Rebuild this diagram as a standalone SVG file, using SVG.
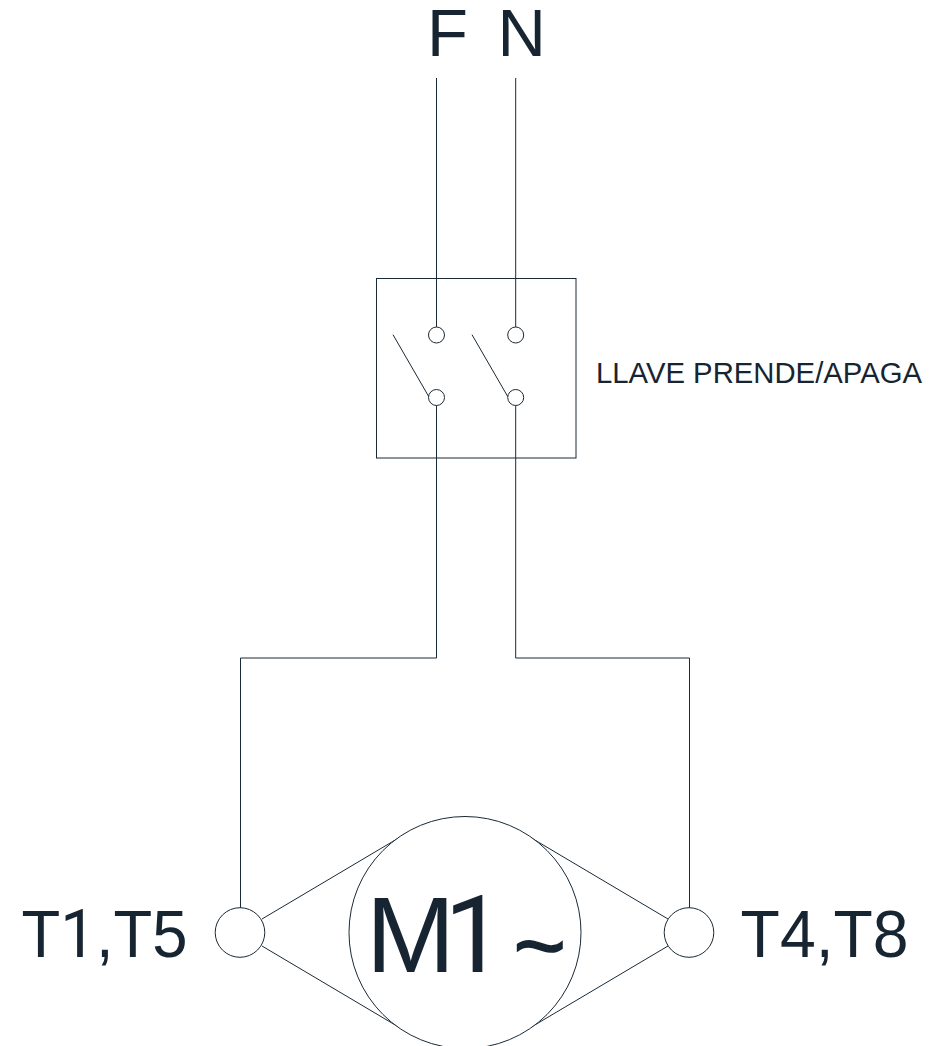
<svg xmlns="http://www.w3.org/2000/svg" width="946" height="1046" viewBox="0 0 946 1046">
<style>
.l{fill:none;stroke:#1a2a36;stroke-width:1}
.n{fill:#fff;stroke:#1a2a36;stroke-width:1}
text{font-family:"Liberation Sans",Arial,sans-serif;fill:#172431}
.d{font-family:Roboto,"Liberation Sans",sans-serif}
</style>
<rect width="946" height="1046" fill="#fff"/>
<g id="connectors">
<path class="l" d="M436.500 78V327M515.700 78V327M436.500 405V658H240.500V908M515.700 405V658H689.500V908"/>
<path class="l" d="M393 334.700L429 397M472 334.700L508 397"/>
<path class="l" d="M262 919L407 833M262 946L407 1032M668 919L523 833M668 946L523 1032"/>
</g>
<g id="switch"><rect class="l" x="376.500" y="278.500" width="199.500" height="179.500"/>
<circle class="n" cx="436.500" cy="335" r="8"/><circle class="n" cx="515.700" cy="335" r="8"/><circle class="n" cx="436.500" cy="397.500" r="8"/><circle class="n" cx="515.700" cy="397.500" r="8"/></g>
<g id="motor"><circle class="n" cx="465" cy="932.500" r="116"/><text x="366" y="972" font-size="107">M<tspan class="d" dx="-11">1</tspan></text><text x="513.500" y="977" font-size="90" stroke="#172431" stroke-width="1.500">~</text></g>
<g id="t1"><circle class="n" cx="240" cy="932.500" r="24.800"/></g>
<g id="t4"><circle class="n" cx="689" cy="932.500" r="24.800"/></g>
<text x="427" y="55.500" font-size="67">F</text>
<text x="497.500" y="55.500" font-size="67">N</text>
<text x="596" y="382.500" font-size="29" textLength="326" lengthAdjust="spacingAndGlyphs">LLAVE PRENDE/APAGA</text>
<text x="21.600" y="957" font-size="66" textLength="166" lengthAdjust="spacingAndGlyphs">T<tspan class="d">1</tspan>,T5</text>
<text x="740.600" y="957" font-size="66" textLength="168" lengthAdjust="spacingAndGlyphs">T4,T8</text>
</svg>
